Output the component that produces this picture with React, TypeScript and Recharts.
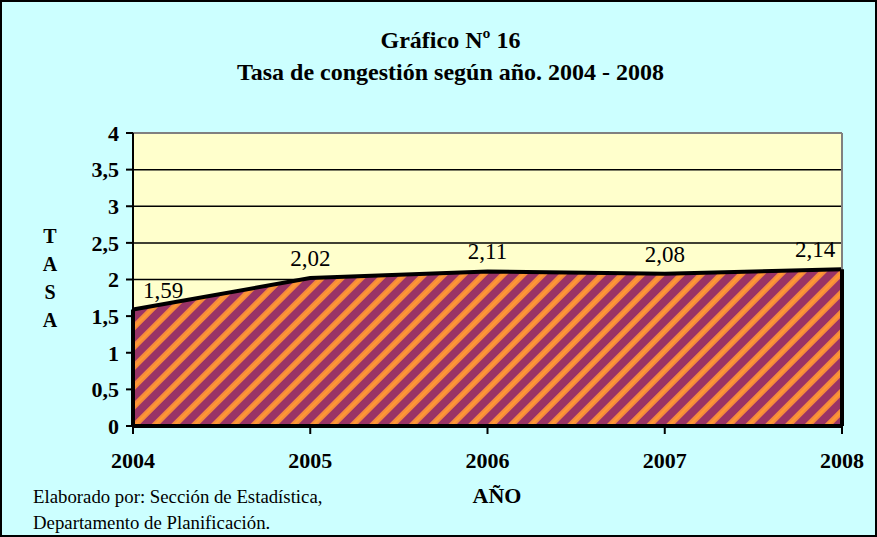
import React from 'react';
import {
  AreaChart,
  Area,
  XAxis,
  YAxis,
  CartesianGrid,
  ReferenceLine,
  LabelList,
} from 'recharts';

const years = [2004, 2005, 2006, 2007, 2008];
const tasa = [1.59, 2.02, 2.11, 2.08, 2.14];
const yTicks = [0, 0.5, 1, 1.5, 2, 2.5, 3, 3.5, 4];

const serif = '"Liberation Serif", "Times New Roman", serif';

const data = years.map((year, i) => ({ year, tasa: tasa[i] }));

const comma = (v: number) => String(v).replace('.', ',');

// Excel pushes the edge labels inside the plot
const renderLabel = (props: any) => {
  const { x, y, value, index } = props;
  let dx = 0;
  if (index === 0) dx = 30;
  if (index === years.length - 1) dx = -27;
  return (
    <text
      x={Number(x) + dx}
      y={Number(y) - 12}
      textAnchor="middle"
      fontFamily={serif}
      fontSize={23}
      fill="#000"
    >
      {comma(Number(value))}
    </text>
  );
};

const tickStyle = { fontFamily: serif, fontSize: 22, fontWeight: 'bold', fill: '#000' };

export default function App() {
  return (
    <div
      style={{
        position: 'absolute',
        left: 0,
        top: 0,
        width: 877,
        height: 537,
        background: '#CCFFFF',
        fontFamily: serif,
      }}
    >
      <AreaChart
        width={877}
        height={537}
        data={data}
        margin={{ top: 133, right: 35, bottom: 71, left: 0 }}
      >
        <defs>
          <pattern
            id="stripes"
            width="14"
            height="14"
            patternUnits="userSpaceOnUse"
            patternTransform="rotate(45)"
          >
            <rect width="14" height="14" fill="#993366" />
            <rect x="1" width="6" height="14" fill="#F58A3C" />
            <rect x="3" width="2" height="14" fill="#FF9933" />
          </pattern>
        </defs>
        <CartesianGrid vertical={false} stroke="#000" strokeWidth={1.5} fill="#FFFFCC" />
        <XAxis
          dataKey="year"
          height={40}
          axisLine={{ stroke: '#000', strokeWidth: 4 }}
          tickLine={{ stroke: '#000', strokeWidth: 2 }}
          tickSize={8}
          tickMargin={18}
          tick={tickStyle}
          interval={0}
        />
        <YAxis
          width={133}
          domain={[0, 4]}
          ticks={yTicks}
          axisLine={{ stroke: '#000', strokeWidth: 2 }}
          tickLine={{ stroke: '#000', strokeWidth: 2 }}
          tickSize={7}
          tickMargin={7}
          tick={tickStyle}
          tickFormatter={comma}
        />
        <Area
          type="linear"
          dataKey="tasa"
          stroke="#000"
          strokeWidth={4}
          fill="url(#stripes)"
          fillOpacity={1}
          isAnimationActive={false}
        >
          <LabelList dataKey="tasa" content={renderLabel} />
        </Area>
        <ReferenceLine y={4} stroke="#808080" strokeWidth={2} />
        <ReferenceLine x={years[4]} stroke="#808080" strokeWidth={2} />
        <ReferenceLine
          segment={[
            { x: years[4], y: 0 },
            { x: years[4], y: tasa[4] },
          ]}
          stroke="#000"
          strokeWidth={4}
        />
        <ReferenceLine
          segment={[
            { x: years[0], y: 0 },
            { x: years[0], y: tasa[0] },
          ]}
          stroke="#000"
          strokeWidth={4}
        />
      </AreaChart>

      {/* title */}
      <div
        style={{
          position: 'absolute',
          left: 12,
          top: 24,
          width: 877,
          textAlign: 'center',
          fontWeight: 'bold',
          fontSize: 24,
          lineHeight: '32px',
        }}
      >
        <div>Gráfico Nº 16</div>
        <div>Tasa de congestión según año. 2004 - 2008</div>
      </div>

      {/* vertical axis name */}
      <div
        style={{
          position: 'absolute',
          left: 38,
          top: 222,
          width: 24,
          textAlign: 'center',
          fontWeight: 'bold',
          fontSize: 20,
          lineHeight: '28px',
        }}
      >
        <div>T</div>
        <div>A</div>
        <div>S</div>
        <div>A</div>
      </div>

      <div
        style={{
          position: 'absolute',
          left: 447,
          top: 482,
          width: 100,
          textAlign: 'center',
          fontWeight: 'bold',
          fontSize: 22,
          lineHeight: '28px',
        }}
      >
        AÑO
      </div>

      <div
        style={{
          position: 'absolute',
          left: 33,
          top: 484,
          fontSize: 18.8,
          lineHeight: '26px',
        }}
      >
        <div>Elaborado por: Sección de Estadística,</div>
        <div>Departamento de Planificación.</div>
      </div>

      <div
        style={{
          position: 'absolute',
          left: 0,
          top: 0,
          width: 877,
          height: 537,
          boxSizing: 'border-box',
          border: '2px solid #000',
          pointerEvents: 'none',
        }}
      />
    </div>
  );
}
